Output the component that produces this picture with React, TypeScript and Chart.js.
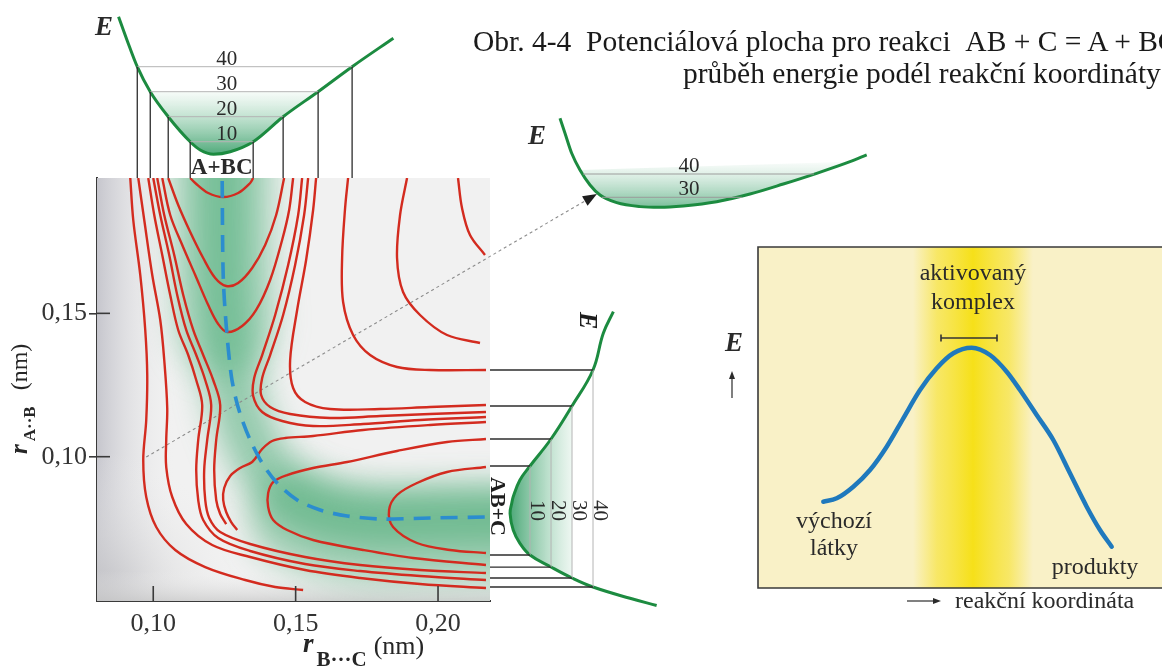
import React, { useEffect, useRef } from "react";
import { Chart, registerables } from "chart.js";

Chart.register(...registerables);

const FONT = '"Liberation Serif", "Times New Roman", serif';
const W = 1162;
const H = 666;

// ---------------- main potential surface (r_BC horizontal, r_AB vertical, nm) ----------------
const rBCRange = [0.08025, 0.21825];
const rABRange = [0.04967, 0.19721];
const rBCTicks = [0.1, 0.15, 0.2];
const rBCTickLabels = ["0,10", "0,15", "0,20"];
const rABTicks = [0.1, 0.15];
const rABTickLabels = ["0,10", "0,15"];

const contourA = [[0.09193,0.19721],[0.09298,0.18256],[0.09544,0.16338],[0.09719,0.1442],[0.09789,0.12849],[0.09754,0.1128],[0.09649,0.09885],[0.09754,0.08594],[0.10105,0.07548],[0.10772,0.06746],[0.11825,0.06152],[0.13228,0.05699],[0.14281,0.05455],[0.15263,0.0535]];
const contourB = [[0.09474,0.19721],[0.09684,0.18256],[0.09965,0.16338],[0.10246,0.14768],[0.10386,0.13373],[0.10491,0.11698],[0.10456,0.10583],[0.10456,0.0964],[0.10667,0.08594],[0.11158,0.07652],[0.1207,0.0692],[0.13404,0.06501],[0.15333,0.06048],[0.17263,0.05769],[0.19368,0.0556],[0.21684,0.0542]];
const contourC = [[0.09825,0.19721],[0.10035,0.18431],[0.10316,0.17035],[0.10596,0.1564],[0.10877,0.1442],[0.11228,0.13547],[0.11509,0.12675],[0.11719,0.11803],[0.11579,0.10583],[0.11509,0.09536],[0.11579,0.0849],[0.11754,0.07792],[0.12281,0.07164],[0.13404,0.06711],[0.15333,0.06257],[0.17263,0.06013],[0.19368,0.05839],[0.21684,0.05699]];
const contourD = [[0.1,0.19721],[0.10246,0.18431],[0.10561,0.17035],[0.10842,0.1564],[0.11158,0.1442],[0.11509,0.13547],[0.11825,0.12675],[0.12035,0.11803],[0.11895,0.10583],[0.11789,0.09536],[0.11825,0.0849],[0.11965,0.07862],[0.12351,0.07374],[0.13404,0.06955],[0.15333,0.06501],[0.17263,0.06222],[0.19368,0.06048],[0.21684,0.05943]];
const contourE = [[0.1014,0.19721],[0.10386,0.18431],[0.10737,0.17035],[0.11053,0.1564],[0.11404,0.1442],[0.11754,0.13547],[0.12105,0.12675],[0.12351,0.11803],[0.12211,0.10583],[0.1214,0.09536],[0.12211,0.0849],[0.12351,0.08001],[0.12561,0.07652]];
const contourU1 = [[0.11298,0.19721],[0.11474,0.19547],[0.1193,0.19198],[0.12456,0.19058],[0.12982,0.19198],[0.13404,0.19547],[0.13509,0.19721]];
const contourU2 = [[0.10526,0.19721],[0.10877,0.18779],[0.11298,0.17838],[0.11754,0.1693],[0.12175,0.16233],[0.12561,0.15954],[0.12982,0.16059],[0.13474,0.16582],[0.1393,0.17384],[0.14316,0.18431],[0.14596,0.19721]];
const contourU3 = [[0.10316,0.19721],[0.10596,0.18431],[0.11018,0.17384],[0.11474,0.16338],[0.1193,0.15291],[0.12281,0.14629],[0.12596,0.14349],[0.13123,0.14559],[0.13614,0.15117],[0.14105,0.16164],[0.14526,0.17559],[0.14772,0.18605],[0.14912,0.19721]];
const contourLInner = [[0.15228,0.19721],[0.15088,0.18431],[0.14737,0.16686],[0.14281,0.14943],[0.13825,0.13547],[0.13544,0.12745],[0.13509,0.12117],[0.13825,0.11559],[0.14526,0.11245],[0.15614,0.11071],[0.17368,0.11141],[0.19368,0.1128],[0.21684,0.11385]];
const contourLMid = [[0.15439,0.19721],[0.15298,0.18431],[0.14982,0.16686],[0.14561,0.14943],[0.14105,0.13547],[0.13825,0.12745],[0.13789,0.12152],[0.14105,0.11733],[0.14807,0.11489],[0.16211,0.1135],[0.17965,0.11419],[0.19719,0.11489],[0.21684,0.11559]];
const contourL30 = [[0.15719,0.19721],[0.15614,0.18605],[0.15368,0.16861],[0.15053,0.15117],[0.14807,0.13373],[0.14912,0.12396],[0.15333,0.11907],[0.16211,0.11663],[0.17965,0.11663],[0.19719,0.11733],[0.21684,0.11803]];
const contourL40 = [[0.16842,0.19721],[0.16737,0.18675],[0.16632,0.1693],[0.16667,0.15396],[0.17018,0.14244],[0.17614,0.13547],[0.18561,0.13129],[0.19719,0.13024],[0.21684,0.13024]];
const contourP2 = [[0.18912,0.19721],[0.18667,0.18431],[0.18561,0.1693],[0.18772,0.15745],[0.19368,0.14943],[0.20316,0.14244],[0.21474,0.13965]];
const contourP3 = [[0.20702,0.19721],[0.20842,0.18675],[0.21123,0.17733],[0.21649,0.17035]];
const contourW = [[0.21684,0.1121],[0.19719,0.11106],[0.17368,0.10931],[0.15614,0.10722],[0.14632,0.10652],[0.14175,0.10548],[0.13825,0.10269],[0.13474,0.09815],[0.13053,0.09606],[0.12702,0.09326],[0.12491,0.08908],[0.12456,0.0849],[0.12561,0.08071],[0.12737,0.07722],[0.12947,0.07443]];
const contourU20 = [[0.21684,0.10617],[0.20316,0.10513],[0.18561,0.10199],[0.16807,0.09815],[0.15614,0.09606],[0.14702,0.09361],[0.14211,0.09117],[0.14035,0.08734],[0.14035,0.08245],[0.14211,0.07792],[0.14702,0.07443],[0.15614,0.07094],[0.17368,0.06746],[0.19123,0.06467],[0.21684,0.06222]];
const contourInner = [[0.21684,0.0964],[0.20316,0.09466],[0.19263,0.09082],[0.18561,0.08664],[0.18281,0.08141],[0.18421,0.07548],[0.19263,0.0699],[0.20421,0.06746],[0.21684,0.06641]];

const reactionPath = [[0.12421,0.19616],[0.12456,0.16338],[0.12561,0.14594],[0.12737,0.12849],[0.12912,0.11978],[0.13123,0.1128],[0.13404,0.10583],[0.13825,0.0978],[0.14351,0.09082],[0.15053,0.0849],[0.1586,0.08141],[0.16807,0.07932],[0.17965,0.07827],[0.19719,0.07862],[0.21719,0.07897]];
const reactionArrow = [[0.09754,0.0999],[0.25579,0.19163]];

// ---------------- energy cut along A+BC valley (top): [r_BC, E] ----------------
const topERange = [-4.52, 60];
const topCurve = [[0.08782,60],[0.09077,50.7],[0.09439,40],[0.09895,30],[0.10526,20],[0.11298,10],[0.11649,6.7],[0.12116,5.0],[0.12702,6.0],[0.13509,10],[0.14561,20],[0.15789,30],[0.16983,40],[0.18432,51.4]];
const topLevelE = [40, 30, 20, 10];
const topLevelFrom = [0.09439, 0.09895, 0.10526, 0.11298];
const topLevelTo = [0.16983, 0.15789, 0.14561, 0.13509];

// ---------------- energy cut along AB+C valley (right): [E, r_AB] ----------------
const sideERange = [-9.05, 75];
const sideCurve = [[49.7,0.15058],[44.9,0.14304],[40,0.13024],[30,0.11768],[20,0.10617],[10,0.09676],[5.2,0.09187],[2.0,0.08605],[1.3,0.08375],[0.5,0.08026],[2.0,0.07443],[5.2,0.06979],[10,0.06571],[20,0.06152],[30,0.05769],[40,0.05455],[57.6,0.05061],[70.3,0.0481]];
const sideLevelE = [10, 20, 30, 40];
const sideLevelUpper = [0.09676, 0.10617, 0.11768, 0.13024];
const sideLevelLower = [0.06571, 0.06152, 0.05769, 0.05455];

// ---------------- energy along the dotted cut (middle): [s, E] ----------------
const midSRange = [0, 34];
const midERange = [20, 70];
const midCurve = [[2.0,63.9],[2.5,57.5],[3.17,48.9],[4.0,41.7],[5.0,35.3],[6.0,31.0],[7.67,27.7],[10.0,26.0],[12.0,25.7],[14.33,26.3],[17.67,28.1],[21.0,31.4],[24.33,35.7],[27.67,40.3],[31.0,45.3],[32.67,48.2]];
const midLevelE = [40, 30];
const midLevelFrom = [4.3, 6.2];
const midLevelTo = [27.4, 20.2];

// ---------------- inset: energy along reaction coordinate ----------------
const insetSRange = [0, 40.4];
const insetERange = [0, 34.1];
const insetCurve = [[6.53,8.63],[7.87,8.97],[9.53,10.13],[11.2,11.8],[12.87,14.13],[14.53,16.97],[16.2,19.8],[17.87,21.97],[19.53,23.47],[21.37,24.03],[23.2,23.3],[24.87,21.63],[26.2,19.8],[27.87,17.3],[29.53,14.8],[31.2,11.47],[32.87,8.13],[34.2,5.8],[35.37,4.13]];
const activatedRange = [15.5, 27.5];
const complexBarS = [18.3, 23.9];
const complexBarE = 25.0;
const insetLabels = ["aktivovaný", "komplex", "výchozí", "látky", "produkty"];
const insetLabelS = [21.5, 21.5, 7.6, 7.6, 33.7];
const insetLabelE = [31.4, 28.5, 6.6, 3.9, 2.0];

const titleLine1 = "Obr. 4-4\u00a0\u00a0Potenciálová plocha pro reakci\u00a0\u00a0AB + C = A + BC";
const titleLine2 = "průběh energie podél reakční koordináty";

// ---------------- helpers ----------------
const toXY = (arr: number[][]) => arr.map(([x, y]) => ({ x, y }));
function seg(ctx: any, x1: number, y1: number, x2: number, y2: number) {
  ctx.beginPath();
  ctx.moveTo(x1, y1);
  ctx.lineTo(x2, y2);
  ctx.stroke();
}
function head(ctx: any, x: number, y: number, ang: number, len: number, half: number) {
  ctx.beginPath();
  ctx.moveTo(x, y);
  ctx.lineTo(x - len * Math.cos(ang) + half * Math.sin(ang), y - len * Math.sin(ang) - half * Math.cos(ang));
  ctx.lineTo(x - len * Math.cos(ang) - half * Math.sin(ang), y - len * Math.sin(ang) + half * Math.cos(ang));
  ctx.closePath();
  ctx.fill();
}
const baseOptions = (padding: any, scales: any) => ({
  animation: false,
  responsive: false,
  events: [],
  layout: { padding },
  scales,
  plugins: { legend: { display: false }, tooltip: { enabled: false } },
});
const GREEN = "#1c8b40";

// ---------------- main chart ----------------
function mainConfig(): any {
  const plugin = {
    id: "surface",
    beforeDatasetsDraw(chart: any) {
      const { ctx, chartArea: a, scales } = chart;
      const x = scales.x, y = scales.y;
      const w = a.right - a.left, h = a.bottom - a.top;
      ctx.save();
      ctx.beginPath();
      ctx.rect(a.left, a.top, w, h);
      ctx.clip();
      ctx.fillStyle = "#f1f1f1";
      ctx.fillRect(a.left, a.top, w, h);
      const lg = ctx.createLinearGradient(a.left, 0, a.left + 80, 0);
      lg.addColorStop(0, "rgba(198,198,205,1)");
      lg.addColorStop(1, "rgba(241,241,241,0)");
      ctx.fillStyle = lg;
      ctx.fillRect(a.left, a.top, w, h);
      const rg = ctx.createRadialGradient(a.left, a.bottom, 0, a.left, a.bottom, 150);
      rg.addColorStop(0, "rgba(188,188,192,0.9)");
      rg.addColorStop(1, "rgba(241,241,241,0)");
      ctx.fillStyle = rg;
      ctx.fillRect(a.left, a.top, w, h);
      const bg = ctx.createLinearGradient(0, a.bottom, 0, a.bottom - 30);
      bg.addColorStop(0, "rgba(200,200,200,0.7)");
      bg.addColorStop(1, "rgba(241,241,241,0)");
      ctx.fillStyle = bg;
      ctx.fillRect(a.left, a.top, w, h);

      const pts = reactionPath.map(([rx, ry]) => ({ x: x.getPixelForValue(rx), y: y.getPixelForValue(ry) }));
      const ext = [{ x: pts[0].x, y: a.top - 50 }, ...pts, { x: a.right + 60, y: pts[pts.length - 1].y }];
      const stroke = (p: any[], lw: number, col: string) => {
        ctx.beginPath();
        p.forEach((q, i) => (i ? ctx.lineTo(q.x, q.y) : ctx.moveTo(q.x, q.y)));
        ctx.lineWidth = lw;
        ctx.strokeStyle = col;
        ctx.stroke();
      };
      ctx.lineCap = "round";
      ctx.lineJoin = "round";
      ctx.filter = "blur(16px)";
      const yTop = y.getPixelForValue(0.14);
      stroke(ext.filter((p) => p.y < yTop), 100, "rgba(95,185,135,0.45)");
      stroke(ext, 55, "rgba(70,170,115,0.55)");
      const xLow = x.getPixelForValue(0.15);
      stroke(ext.filter((p) => p.x > xLow).map((p) => ({ x: p.x, y: p.y + 18 })), 95, "rgba(70,168,112,0.45)");
      ctx.filter = "none";
      ctx.restore();
    },
    afterDatasetsDraw(chart: any) {
      const { ctx, scales } = chart;
      const x = scales.x, y = scales.y;
      const p0 = { x: x.getPixelForValue(reactionArrow[0][0]), y: y.getPixelForValue(reactionArrow[0][1]) };
      const p1 = { x: x.getPixelForValue(reactionArrow[1][0]), y: y.getPixelForValue(reactionArrow[1][1]) };
      ctx.save();
      ctx.fillStyle = "#1e1e1e";
      head(ctx, p1.x, p1.y, Math.atan2(p1.y - p0.y, p1.x - p0.x), 14, 5.5);
      ctx.restore();
    },
    afterDraw(chart: any) {
      const { ctx, chartArea: a, scales } = chart;
      const x = scales.x, y = scales.y;
      ctx.save();
      ctx.strokeStyle = "#3a3a3a";
      ctx.lineWidth = 1.6;
      rBCTicks.forEach((v) => {
        const px = x.getPixelForValue(v);
        seg(ctx, px, a.bottom, px, a.bottom - 15);
      });
      rABTicks.forEach((v) => {
        const py = y.getPixelForValue(v);
        seg(ctx, a.left, py, a.left + 13, py);
      });
      ctx.fillStyle = "#262626";
      ctx.textAlign = "left";
      ctx.textBaseline = "alphabetic";
      // x title
      let cx = a.left + 206;
      const by = a.bottom + 51;
      ctx.font = `italic bold 27px ${FONT}`;
      ctx.fillText("r", cx, by);
      cx += ctx.measureText("r").width + 3;
      ctx.font = `bold 21px ${FONT}`;
      ctx.fillText("B···C", cx, by + 14);
      cx += ctx.measureText("B···C").width + 7;
      ctx.font = `26px ${FONT}`;
      ctx.fillText("(nm)", cx, by + 2);
      // y title
      ctx.translate(27, 454);
      ctx.rotate(-Math.PI / 2);
      let ty = 0;
      ctx.font = `italic bold 25px ${FONT}`;
      ctx.fillText("r", ty, 0);
      ty += ctx.measureText("r").width + 3;
      ctx.font = `bold 17px ${FONT}`;
      ctx.fillText("A··B", ty, 8);
      ty += ctx.measureText("A··B").width + 16;
      ctx.font = `24px ${FONT}`;
      ctx.fillText("(nm)", ty, 0);
      ctx.restore();
    },
  };
  const contourList = [contourA, contourB, contourC, contourD, contourE, contourU1, contourU2, contourU3, contourLInner, contourLMid, contourL30, contourL40, contourP2, contourP3, contourW, contourU20, contourInner];
  return {
    type: "scatter",
    data: {
      datasets: [
        { data: toXY(reactionPath), showLine: true, borderColor: "#2b8dcf", borderWidth: 3.6, borderDash: [17, 10], pointRadius: 0, tension: 0.3 },
        ...contourList.map((c) => ({ data: toXY(c), showLine: true, borderColor: "#d32b1f", borderWidth: 2.4, pointRadius: 0, tension: 0.35 })),
        { data: toXY(reactionArrow), showLine: true, borderColor: "#8c8c8c", borderWidth: 1.1, borderDash: [3, 3], pointRadius: 0, clip: false },
      ],
    },
    options: baseOptions(
      { left: 0, right: W - 490, top: 178, bottom: 0 },
      {
        x: {
          type: "linear",
          position: "bottom",
          min: rBCRange[0],
          max: rBCRange[1],
          afterBuildTicks: (s: any) => { s.ticks = rBCTicks.map((value) => ({ value })); },
          afterFit: (s: any) => { s.height = 65; },
          ticks: { callback: (_v: any, i: number) => rBCTickLabels[i], font: { family: FONT, size: 26 }, color: "#333", padding: 8, maxRotation: 0, autoSkip: false },
          grid: { display: true, drawOnChartArea: false, drawTicks: false },
          border: { display: true, color: "#3a3a3a", width: 2 },
        },
        y: {
          type: "linear",
          position: "left",
          min: rABRange[0],
          max: rABRange[1],
          afterBuildTicks: (s: any) => { s.ticks = rABTicks.map((value) => ({ value })); },
          afterFit: (s: any) => { s.width = 97; },
          ticks: { callback: (_v: any, i: number) => rABTickLabels[i], font: { family: FONT, size: 26 }, color: "#333", padding: 2, autoSkip: false },
          grid: { display: true, drawOnChartArea: false, drawTicks: true, tickLength: 8, color: "#3a3a3a", lineWidth: 1.6 },
          border: { display: true, color: "#3a3a3a", width: 2 },
        },
      }
    ),
    plugins: [plugin],
  };
}

// ---------------- top energy curve ----------------
function topConfig(): any {
  const plugin = {
    id: "topCut",
    afterDatasetsDraw(chart: any) {
      const { ctx, chartArea: a, scales } = chart;
      const x = scales.x, y = scales.y;
      ctx.save();
      topLevelE.forEach((e, i) => {
        const py = y.getPixelForValue(e);
        const x1 = x.getPixelForValue(topLevelFrom[i]);
        const x2 = x.getPixelForValue(topLevelTo[i]);
        ctx.strokeStyle = "#b4b4b4";
        ctx.lineWidth = 1;
        seg(ctx, x1, py, x2, py);
        ctx.strokeStyle = "#2c2c2c";
        ctx.lineWidth = 1.3;
        seg(ctx, x1, py, x1, a.bottom);
        seg(ctx, x2, py, x2, a.bottom);
      });
      const mid = (topLevelFrom[3] + topLevelTo[3]) / 2;
      const mx = x.getPixelForValue(mid);
      ctx.fillStyle = "#2a2a2a";
      ctx.textAlign = "center";
      ctx.textBaseline = "alphabetic";
      ctx.font = `21px ${FONT}`;
      topLevelE.forEach((e) => ctx.fillText(String(e), mx + 5, y.getPixelForValue(e) - 2));
      ctx.font = `bold 23px ${FONT}`;
      ctx.fillText("A+BC", mx, a.bottom - 4);
      ctx.font = `italic bold 27px ${FONT}`;
      ctx.textAlign = "left";
      ctx.fillText("E", a.left - 2, a.top + 18);
      ctx.restore();
    },
  };
  const well = topCurve.filter(([, e]) => e <= 31);
  return {
    type: "scatter",
    data: {
      datasets: [
        { data: toXY(topCurve), showLine: true, borderColor: GREEN, borderWidth: 3, pointRadius: 0, cubicInterpolationMode: "monotone", clip: false },
        {
          data: toXY(well), showLine: true, borderWidth: 0, pointRadius: 0, cubicInterpolationMode: "monotone", fill: "shape",
          backgroundColor: (c: any) => {
            const ch = c.chart;
            if (!ch.chartArea) return "rgba(0,0,0,0)";
            const ys = ch.scales.y;
            const g = ch.ctx.createLinearGradient(0, ys.getPixelForValue(32), 0, ys.getPixelForValue(5));
            g.addColorStop(0, "rgba(130,200,160,0)");
            g.addColorStop(1, "rgba(50,155,100,0.85)");
            return g;
          },
        },
      ],
    },
    options: baseOptions(
      { left: 97, right: W - 490, top: 16.7, bottom: H - 178 },
      { x: { type: "linear", display: false, min: rBCRange[0], max: rBCRange[1] }, y: { type: "linear", display: false, min: topERange[0], max: topERange[1] } }
    ),
    plugins: [plugin],
  };
}

// ---------------- side energy curve ----------------
function sideConfig(): any {
  const plugin = {
    id: "sideCut",
    afterDatasetsDraw(chart: any) {
      const { ctx, chartArea: a, scales } = chart;
      const x = scales.x, y = scales.y;
      ctx.save();
      const midR = (sideLevelUpper[0] + sideLevelLower[0]) / 2;
      const my = y.getPixelForValue(midR);
      sideLevelE.forEach((e, i) => {
        const px = x.getPixelForValue(e);
        const yu = y.getPixelForValue(sideLevelUpper[i]);
        const yl = y.getPixelForValue(sideLevelLower[i]);
        ctx.strokeStyle = "#b4b4b4";
        ctx.lineWidth = 1;
        seg(ctx, px, yu, px, yl);
        ctx.strokeStyle = "#2c2c2c";
        ctx.lineWidth = 1.3;
        seg(ctx, a.left, yu, px, yu);
        seg(ctx, a.left, yl, px, yl);
        ctx.save();
        ctx.translate(px + 1, my);
        ctx.rotate(Math.PI / 2);
        ctx.fillStyle = "#2a2a2a";
        ctx.textAlign = "center";
        ctx.textBaseline = "alphabetic";
        ctx.font = `21px ${FONT}`;
        ctx.fillText(String(e), 0, 0);
        ctx.restore();
      });
      ctx.save();
      ctx.translate(a.left + 1, my - 4);
      ctx.rotate(Math.PI / 2);
      ctx.fillStyle = "#1e1e1e";
      ctx.textAlign = "center";
      ctx.textBaseline = "alphabetic";
      ctx.font = `bold 22px ${FONT}`;
      ctx.fillText("AB+C", 0, 0);
      ctx.restore();
      const first = sideCurve[0];
      ctx.save();
      ctx.translate(x.getPixelForValue(first[0]) - 33, y.getPixelForValue(first[1]) + 9);
      ctx.rotate(Math.PI / 2);
      ctx.fillStyle = "#1e1e1e";
      ctx.textAlign = "center";
      ctx.textBaseline = "alphabetic";
      ctx.font = `italic bold 26px ${FONT}`;
      ctx.fillText("E", 0, 0);
      ctx.restore();
      ctx.restore();
    },
  };
  const well = sideCurve.filter(([e]) => e <= 33);
  return {
    type: "scatter",
    data: {
      datasets: [
        { data: toXY(sideCurve), showLine: true, borderColor: GREEN, borderWidth: 3, pointRadius: 0, tension: 0.4, clip: false },
        {
          data: toXY(well), showLine: true, borderWidth: 0, pointRadius: 0, tension: 0.4, fill: "shape",
          backgroundColor: (c: any) => {
            const ch = c.chart;
            if (!ch.chartArea) return "rgba(0,0,0,0)";
            const xs = ch.scales.x;
            const g = ch.ctx.createLinearGradient(xs.getPixelForValue(1), 0, xs.getPixelForValue(35), 0);
            g.addColorStop(0, "rgba(50,155,100,0.85)");
            g.addColorStop(1, "rgba(130,200,160,0)");
            return g;
          },
        },
      ],
    },
    options: baseOptions(
      { left: 490, right: W - 666.5, top: 178, bottom: H - 601 },
      { x: { type: "linear", display: false, min: sideERange[0], max: sideERange[1] }, y: { type: "linear", display: false, min: rABRange[0], max: rABRange[1] } }
    ),
    plugins: [plugin],
  };
}

// ---------------- middle energy curve ----------------
function midConfig(): any {
  const plugin = {
    id: "midCut",
    afterDatasetsDraw(chart: any) {
      const { ctx, chartArea: a, scales } = chart;
      const x = scales.x, y = scales.y;
      ctx.save();
      ctx.strokeStyle = "#9c9c9c";
      ctx.lineWidth = 1;
      midLevelE.forEach((e, i) => {
        const py = y.getPixelForValue(e);
        seg(ctx, x.getPixelForValue(midLevelFrom[i]), py, x.getPixelForValue(midLevelTo[i]), py);
      });
      ctx.fillStyle = "#2a2a2a";
      ctx.textAlign = "center";
      ctx.textBaseline = "alphabetic";
      ctx.font = `21px ${FONT}`;
      const lx = x.getPixelForValue((midLevelFrom[1] + midLevelTo[1]) / 2);
      midLevelE.forEach((e) => ctx.fillText(String(e), lx + 17, y.getPixelForValue(e) - 2));
      ctx.font = `italic bold 27px ${FONT}`;
      ctx.textAlign = "left";
      ctx.fillText("E", a.left - 12, a.top + 40);
      ctx.restore();
    },
  };
  const well = midCurve.filter(([, e]) => e <= 46);
  return {
    type: "scatter",
    data: {
      datasets: [
        { data: toXY(midCurve), showLine: true, borderColor: GREEN, borderWidth: 3, pointRadius: 0, cubicInterpolationMode: "monotone", clip: false },
        {
          data: toXY(well), showLine: true, borderWidth: 0, pointRadius: 0, cubicInterpolationMode: "monotone", fill: "shape",
          backgroundColor: (c: any) => {
            const ch = c.chart;
            if (!ch.chartArea) return "rgba(0,0,0,0)";
            const ys = ch.scales.y;
            const g = ch.ctx.createLinearGradient(0, ys.getPixelForValue(47), 0, ys.getPixelForValue(26));
            g.addColorStop(0, "rgba(150,205,175,0)");
            g.addColorStop(1, "rgba(70,165,115,0.7)");
            return g;
          },
        },
      ],
    },
    options: baseOptions(
      { left: 540, right: W - 880, top: 104.1, bottom: H - 220.6 },
      { x: { type: "linear", display: false, min: midSRange[0], max: midSRange[1] }, y: { type: "linear", display: false, min: midERange[0], max: midERange[1] } }
    ),
    plugins: [plugin],
  };
}

// ---------------- inset ----------------
function insetConfig(): any {
  const plugin = {
    id: "inset",
    beforeDatasetsDraw(chart: any) {
      const { ctx, chartArea: a, scales } = chart;
      const x = scales.x;
      ctx.save();
      ctx.fillStyle = "#f9f1c7";
      ctx.fillRect(a.left, a.top, a.right - a.left, a.bottom - a.top);
      const x0 = x.getPixelForValue(activatedRange[0]);
      const x1 = x.getPixelForValue(activatedRange[1]);
      const g = ctx.createLinearGradient(x0, 0, x1, 0);
      g.addColorStop(0, "rgba(247,228,70,0)");
      g.addColorStop(0.2, "rgba(247,228,70,0.75)");
      g.addColorStop(0.5, "rgba(246,224,25,1)");
      g.addColorStop(0.8, "rgba(247,228,70,0.75)");
      g.addColorStop(1, "rgba(247,228,70,0)");
      ctx.fillStyle = g;
      ctx.fillRect(x0, a.top, x1 - x0, a.bottom - a.top);
      ctx.strokeStyle = "#3a3a3a";
      ctx.lineWidth = 1.6;
      ctx.beginPath();
      ctx.moveTo(a.right + 5, a.top);
      ctx.lineTo(a.left, a.top);
      ctx.lineTo(a.left, a.bottom);
      ctx.lineTo(a.right + 5, a.bottom);
      ctx.stroke();
      ctx.restore();
    },
    afterDatasetsDraw(chart: any) {
      const { ctx, chartArea: a, scales } = chart;
      const x = scales.x, y = scales.y;
      ctx.save();
      ctx.strokeStyle = "#333";
      ctx.lineWidth = 1.6;
      const bx0 = x.getPixelForValue(complexBarS[0]);
      const bx1 = x.getPixelForValue(complexBarS[1]);
      const byy = y.getPixelForValue(complexBarE);
      seg(ctx, bx0, byy, bx1, byy);
      seg(ctx, bx0, byy - 3.5, bx0, byy + 3.5);
      seg(ctx, bx1, byy - 3.5, bx1, byy + 3.5);
      ctx.fillStyle = "#2a2a2a";
      ctx.textAlign = "center";
      ctx.textBaseline = "middle";
      ctx.font = `24px ${FONT}`;
      insetLabels.forEach((t, i) => ctx.fillText(t, x.getPixelForValue(insetLabelS[i]), y.getPixelForValue(insetLabelE[i])));
      // outside axis hints
      ctx.font = `italic bold 27px ${FONT}`;
      ctx.fillText("E", a.left - 24, a.top + 97);
      ctx.strokeStyle = "#2a2a2a";
      ctx.lineWidth = 1.2;
      seg(ctx, a.left - 26, a.top + 151, a.left - 26, a.top + 128);
      head(ctx, a.left - 26, a.top + 124, -Math.PI / 2, 8, 3);
      seg(ctx, a.left + 149, a.bottom + 13, a.left + 176, a.bottom + 13);
      head(ctx, a.left + 183, a.bottom + 13, 0, 8, 3);
      ctx.textAlign = "left";
      ctx.textBaseline = "alphabetic";
      ctx.font = `24px ${FONT}`;
      ctx.fillText("reakční koordináta", a.left + 197, a.bottom + 20);
      ctx.restore();
    },
  };
  return {
    type: "scatter",
    data: {
      datasets: [
        { data: toXY(insetCurve), showLine: true, borderColor: "#1f79bd", borderWidth: 4.5, pointRadius: 0, cubicInterpolationMode: "monotone", borderCapStyle: "round" },
      ],
    },
    options: baseOptions(
      { left: 758, right: 0, top: 247, bottom: H - 588 },
      { x: { type: "linear", display: false, min: insetSRange[0], max: insetSRange[1] }, y: { type: "linear", display: false, min: insetERange[0], max: insetERange[1] } }
    ),
    plugins: [plugin],
  };
}

export default function App() {
  const r1 = useRef<HTMLCanvasElement>(null);
  const r2 = useRef<HTMLCanvasElement>(null);
  const r3 = useRef<HTMLCanvasElement>(null);
  const r4 = useRef<HTMLCanvasElement>(null);
  const r5 = useRef<HTMLCanvasElement>(null);
  useEffect(() => {
    const charts = [
      new Chart(r1.current as HTMLCanvasElement, mainConfig()),
      new Chart(r2.current as HTMLCanvasElement, topConfig()),
      new Chart(r3.current as HTMLCanvasElement, sideConfig()),
      new Chart(r4.current as HTMLCanvasElement, midConfig()),
      new Chart(r5.current as HTMLCanvasElement, insetConfig()),
    ];
    return () => charts.forEach((c) => c.destroy());
  }, []);
  const cs: any = { position: "absolute", left: 0, top: 0 };
  const ts: any = { position: "absolute", whiteSpace: "nowrap", fontFamily: FONT, fontSize: 29.5, lineHeight: "30px", color: "#1a1a1a" };
  return (
    <div style={{ position: "fixed", left: 0, top: 0, width: W, height: H, overflow: "hidden", background: "#fff" }}>
      <canvas ref={r1} width={W} height={H} style={cs} />
      <canvas ref={r2} width={W} height={H} style={cs} />
      <canvas ref={r3} width={W} height={H} style={cs} />
      <canvas ref={r4} width={W} height={H} style={cs} />
      <canvas ref={r5} width={W} height={H} style={cs} />
      <div style={{ ...ts, left: 473, top: 26 }}>{titleLine1}</div>
      <div style={{ ...ts, left: 683, top: 58 }}>{titleLine2}</div>
    </div>
  );
}
